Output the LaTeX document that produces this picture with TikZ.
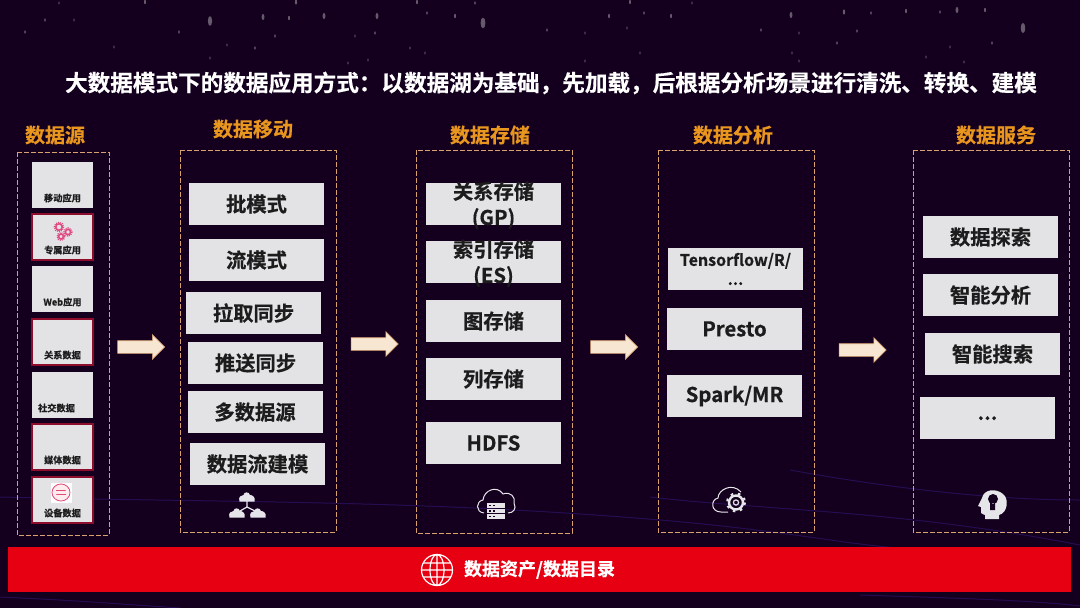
\documentclass[tikz,border=0pt]{standalone}
\usepackage{fontspec}
\usepackage{xcolor}
\setmainfont{Noto Sans CJK SC}[BoldFont={Noto Sans CJK SC Bold},BoldFeatures={FakeBold=0.5}]
\usetikzlibrary{positioning}
\usetikzlibrary{shapes.arrows}
\usetikzlibrary{arrows.meta}
\definecolor{night}{HTML}{14001E}
\definecolor{streak}{HTML}{2C1468}
\definecolor{panel}{HTML}{E3E3E6}
\definecolor{ink}{HTML}{1C1C1C}
\definecolor{gold}{HTML}{E8961E}
\definecolor{edge}{HTML}{D9A070}
\definecolor{rim}{HTML}{8E0C2C}
\definecolor{banner}{HTML}{E60012}
\definecolor{pinkish}{HTML}{E04880}
\definecolor{cream}{HTML}{F6E6D2}
\definecolor{icon}{HTML}{E6E6EA}
% Two lines that are taller than their box
\newcommand{\tallpair}[2]{\raisebox{-8pt}[0pt][0pt]{\begin{tabular}{@{}c@{}}#1\\#2\end{tabular}}}
\tikzset{
  % One item of a column
  itembox/.style={
    fill=panel, text=ink, rectangle, align=center, font=\fontsize{20.3}{26}\selectfont\bfseries,
    inner sep=0pt, outer sep=0pt, minimum width=135pt, minimum height=42pt},
  % A small source card, its name sits at the bottom
  srcbox/.style={
    fill=panel, text=ink, rectangle, font=\fontsize{9.2}{10}\selectfont\bfseries,
    inner xsep=0pt, inner ysep=3pt, outer sep=0pt, text height=36.5pt, text depth=3.5pt,
    minimum width=61pt, minimum height=46pt},
  srcrim/.style={srcbox, draw=rim, line width=1.2pt},
  % A column and its heading
  column/.style={draw=edge, dash pattern=on 5pt off 2pt, line width=0.7pt},
  heading/.style={text=gold, font=\fontsize{20}{22}\selectfont\bfseries, inner sep=0pt},
  % The step between two columns
  stepper/.style={
    single arrow, draw=edge, fill=cream, line width=0.6pt, inner xsep=0pt, inner ysep=6pt,
    minimum height=47pt, minimum width=24pt, single arrow head extend=6pt},
  star/.style={fill=white, opacity=0.35},
  glow/.style={draw=streak, line width=1pt, opacity=0.7},
}
\begin{document}
\begin{tikzpicture}[x=1pt, y=-1pt]

  \useasboundingbox (0,0) rectangle (1080,608);
  \fill[night] (0,0) rectangle (1080,608);

  % background
  \foreach \sx/\sy/\sr in {210/21/3, 483/23/3.4, 1023/28/3.2, 377/16/2, 263/17/2, 324/16/2, 791/15/2,
      957/10/2, 844/12/1.6, 45/20/1.2, 25/32/1.2, 74/20/1, 179/32/1.2, 289/18/1.4, 275/36/1.2,
      355/36/1, 375/33/1.2, 455/16/1.4, 427/13/1.2, 547/30/1.2, 585/33/1, 609/16/1.4, 644/13/1.2,
      671/16/1.4, 627/28/1, 761/30/1.2, 799/33/1, 857/31/1.2, 906/11/1.4, 940/12/1.2, 985/10/1.4,
      871/13/1.2, 837/43/1.2, 992/43/1.2, 926/57/1, 950/47/1, 792/53/1, 640/53/1, 585/61/1,
      348/63/1, 368/60/1, 255/48/1.2, 227/45/1, 114/47/1, 210/58/1, 410/48/1, 425/53/1, 799/61/1,
      964/62/1, 59/3/1, 145/2/1.4, 296/2/1.6, 417/2/1.4, 475/3/1.2, 630/2/1.4, 692/3/1}
    \fill[star] (\sx,\sy) ellipse ({\sr*0.7} and {\sr*1.6});
  \draw[glow] (0,497) .. controls (250,503) and (420,500) .. (660,520)
    .. controls (780,530) and (850,545) .. (900,548);
  \draw[glow] (650,497) .. controls (760,510) and (900,510) .. (1080,545);
  \draw[glow] (790,470) .. controls (900,490) and (1000,500) .. (1080,500);
  \draw[glow] (0,597) .. controls (70,600) and (120,604) .. (180,608);
  \draw[glow] (860,595) .. controls (950,598) and (1030,600) .. (1080,606);

  \node[text=white, inner sep=0pt, font=\fontsize{22.6}{26}\selectfont\bfseries] (title) at (551,83)
    {大数据模式下的数据应用方式：以数据湖为基础，先加载，后根据分析场景进行清洗、转换、建模};

  % columns
  \draw[column] (17,152) rectangle (109,535);
  \draw[column] (180,150) rectangle (336,532);
  \draw[column] (416,150) rectangle (572,533);
  \draw[column] (658,150) rectangle (814,532);
  \draw[column] (913,150) rectangle (1069,532);

  \node[heading] (srchead)   at (55,135)  {数据源};
  \node[heading] (movehead)  at (253,129) {数据移动};
  \node[heading] (storehead) at (490,135) {数据存储};
  \node[heading] (mathead)   at (733,135) {数据分析};
  \node[heading] (servehead) at (996,135) {数据服务};

  % sources
  \node[srcbox] (mobile) at (62.5,185) {移动应用};
  \node[srcrim, below=6pt of mobile]  (owned)  {专属应用};
  \node[srcbox, below=6pt of owned]   (web)    {Web应用};
  \node[srcrim, below=7pt of web]     (rel)    {关系数据};
  \node[srcbox, below=7pt of rel]     (social) {\hspace*{-12pt}社交数据};
  \node[srcrim, below=6pt of social]  (media)  {媒体数据};
  \node[srcrim, below=7pt of media]   (device) {设备数据};

  % moving
  \node[itembox] (batch) at (256.5,204) {批模式};
  \node[itembox, below=14pt of batch]              (stream) {流模式};
  \node[itembox, below=11pt of stream, xshift=-3pt](pull)   {拉取同步};
  \node[itembox, below=8pt of pull, xshift=2pt]    (push)   {推送同步};
  \node[itembox, below=7pt of push, xshift=-0.5pt] (multi)  {多数据源};
  \node[itembox, below=10pt of multi, xshift=2.5pt](flow)   {数据流建模};

  % storing
  \node[itembox] (relstore) at (493.5,204) {\tallpair{关系存储}{(GP)}};
  \node[itembox, below=16pt of relstore] (idxstore) {\tallpair{索引存储}{(ES)}};
  \node[itembox, below=17pt of idxstore] (graph)    {图存储};
  \node[itembox, below=16pt of graph]    (colstore) {列存储};
  \node[itembox, below=22pt of colstore] (hdfs)     {HDFS};

  % analysis
  \node[itembox, font=\fontsize{16}{19}\selectfont\bfseries] (tflow) at (735.5,269) {Tensorflow/R/\\...};
  \node[itembox, below=18pt of tflow, xshift=-1pt] (presto) {Presto};
  \node[itembox, below=25pt of presto]             (spark)  {Spark/MR};

  % services
  \node[itembox] (explore) at (990.5,237) {数据探索};
  \node[itembox, below=16pt of explore]             (smart)  {智能分析};
  \node[itembox, below=17pt of smart, xshift=2pt]   (search) {智能搜索};
  \node[itembox, below=22pt of search, xshift=-5pt] (more)   {\raisebox{-4pt}{...}};

  \node[stepper] (stepa) at (138,347) {};
  \node[stepper] (stepb) at (371.5,344) {};
  \node[stepper] (stepc) at (611,347) {};
  \node[stepper] (stepd) at (859.5,350) {};

  \node[fill=banner, text=white, inner sep=0pt, minimum width=1063pt, minimum height=45pt,
        font=\fontsize{18}{20}\selectfont\bfseries] (assets) at (539.5,569.5) {数据资产/数据目录};

  % icons
  \draw[white, line width=1.2pt] (437,570) circle (15.5) (437,570) ellipse (7 and 15.5)
    (437,554.5) -- (437,585.5) (423,563) -- (451,563) (421.5,570) -- (452.5,570) (423,577) -- (451,577);

  \foreach \gx/\gy/\gr in {59/227/3.2, 68/232/2.6, 61/236.5/2.4} {
    \draw[pinkish, line width=1.5pt] (\gx,\gy) circle (\gr);
    \draw[pinkish, line width=1.4pt, dash pattern=on 1pt off 1pt] (\gx,\gy) circle (\gr+1.4);
  }
  \fill[white!92!panel] (50.5,483) rectangle (72,503);
  \draw[pinkish, fill=pink!30, line width=0.8pt] (61,492.5) ellipse (9 and 8.5);
  \draw[pinkish, line width=0.8pt, -{Stealth[length=1.5pt]}] (56,490.5) -- (66,490.5);
  \draw[pinkish, line width=0.8pt, -{Stealth[length=1.5pt]}] (66,494.5) -- (56,494.5);

  \foreach \cx/\cy in {247/498, 237/514, 258/514} {
    \fill[icon] (\cx-7.5,\cy+3.5) -- (\cx+7.5,\cy+3.5) .. controls (\cx+9,\cy-2) and (\cx+4,\cy-3) .. (\cx+3,\cy-3)
      .. controls (\cx+2,\cy-6.5) and (\cx-3,\cy-6.5) .. (\cx-3.5,\cy-3)
      .. controls (\cx-6,\cy-3) and (\cx-9,\cy-1) .. (\cx-7.5,\cy+3.5) -- cycle;
  }
  \draw[icon, line width=1.2pt] (247,501) -- (247,507) -- (240,511) (247,507) -- (255,511);

  \draw[icon, line width=1pt] (484,513) .. controls (475,512) and (476,501) .. (483,500)
    .. controls (484,490) and (497,485) .. (503,494)
    .. controls (510,491) and (516,497) .. (514,503) .. controls (517,509) and (513,513) .. (508,513);
  \foreach \ry in {503,508.5,514} {
    \fill[icon] (487,\ry) rectangle (505,\ry+4.5);
    \fill[night] (489,\ry+1.5) rectangle (491,\ry+3);
    \fill[night] (493,\ry+1.5) rectangle (495,\ry+3);
  }

  \draw[icon, line width=1pt] (728,512) -- (721,512) .. controls (711,512) and (710,500) .. (718,498)
    .. controls (718,490) and (732,482) .. (741,492);
  \draw[icon, line width=2.4pt] (736,502.5) circle (7);
  \draw[icon, line width=2pt, dash pattern=on 2.6pt off 4.73pt] (736,502.5) circle (9);
  \draw[icon, line width=1.2pt] (736,502.5) circle (2.6);

  \fill[icon] (985,519) -- (999,519) -- (999,515) .. controls (1008,513) and (1009,498) .. (1003,494)
    .. controls (996,488) and (984,489) .. (982,498) -- (978,506) -- (981,507) -- (981,513)
    .. controls (982,515) and (985,514) .. (985,515) -- cycle;
  \fill[night] (993,499) circle (5) (990,503) rectangle (995,510);

\end{tikzpicture}
\end{document}
